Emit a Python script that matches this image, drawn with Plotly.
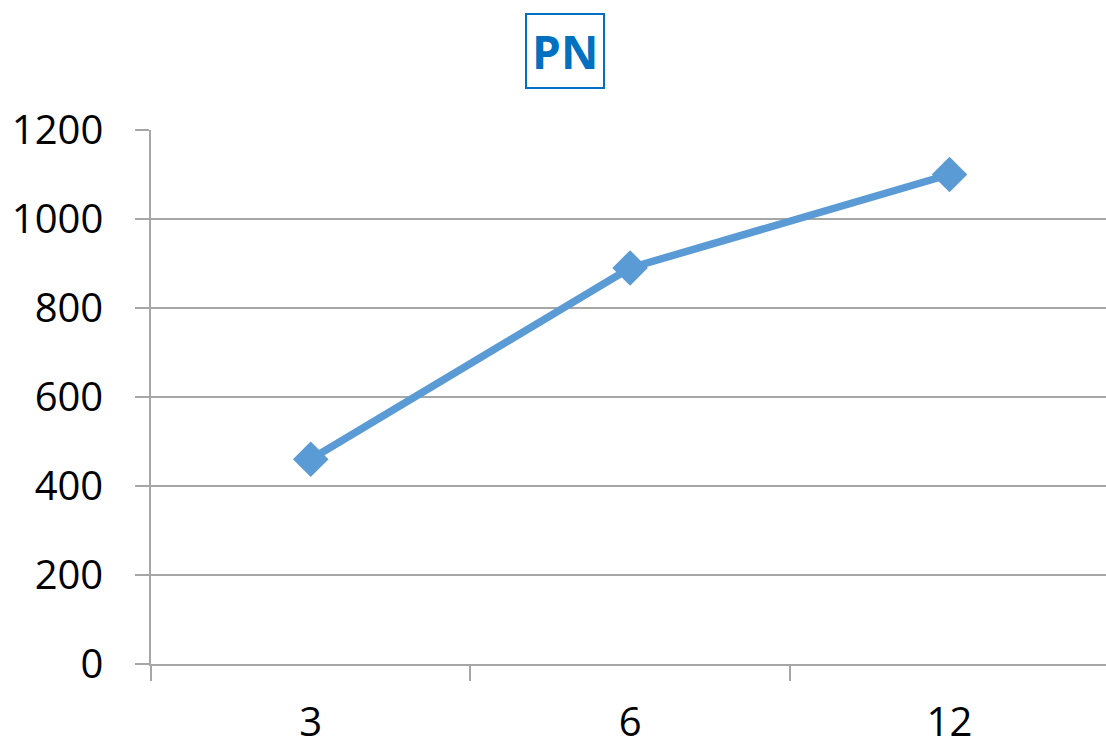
import plotly.graph_objects as go

# Data
categories = ["3", "6", "12"]
pn_values = [460, 890, 1100]
y_ticks = [0, 200, 400, 600, 800, 1000, 1200]

LINE_BLUE = "#5B9BD5"
TITLE_BLUE = "#0070C0"
GRID = "#A6A6A6"
FONT = "Open Sans"

fig = go.Figure()
fig.add_trace(go.Scatter(
    x=categories,
    y=pn_values,
    mode="lines+markers",
    line=dict(color=LINE_BLUE, width=7.5),
    marker=dict(symbol="diamond", size=23, color=LINE_BLUE,
                line=dict(color=LINE_BLUE, width=4)),
    showlegend=False,
))

fig.update_layout(
    width=1106,
    height=747,
    margin=dict(l=151, r=0, t=130, b=83),
    paper_bgcolor="white",
    plot_bgcolor="white",
    font=dict(family=FONT, color="black"),
    xaxis=dict(
        type="category",
        range=[-0.5, 2.49],
        tickson="boundaries",
        ticks="outside",
        ticklen=15,
        tickwidth=1.5,
        tickcolor=GRID,
        showgrid=False,
        showline=True,
        linecolor=GRID,
        linewidth=1.5,
        tickfont=dict(size=40, family=FONT, color="black"),
        ticklabelstandoff=22,
        zeroline=False,
        automargin=False,
    ),
    yaxis=dict(
        range=[0, 1200],
        tickvals=y_ticks,
        ticks="outside",
        ticklen=14,
        tickwidth=1.5,
        tickcolor=GRID,
        showgrid=True,
        gridcolor=GRID,
        gridwidth=1.5,
        showline=True,
        linecolor=GRID,
        linewidth=1.5,
        zeroline=False,
        tickfont=dict(size=40, family=FONT, color="black"),
        ticklabelstandoff=24,
        automargin=False,
    ),
)

fig.add_annotation(
    text="<b>PN</b>",
    xref="paper", yref="paper",
    x=(565 - 151) / 955, y=1 + (130 - 51) / 534,
    xanchor="center", yanchor="middle",
    showarrow=False,
    font=dict(size=46, family=FONT, color=TITLE_BLUE),
    bordercolor=TITLE_BLUE,
    borderwidth=2,
    borderpad=5,
    bgcolor="white",
)

fig.write_html("out.html")
